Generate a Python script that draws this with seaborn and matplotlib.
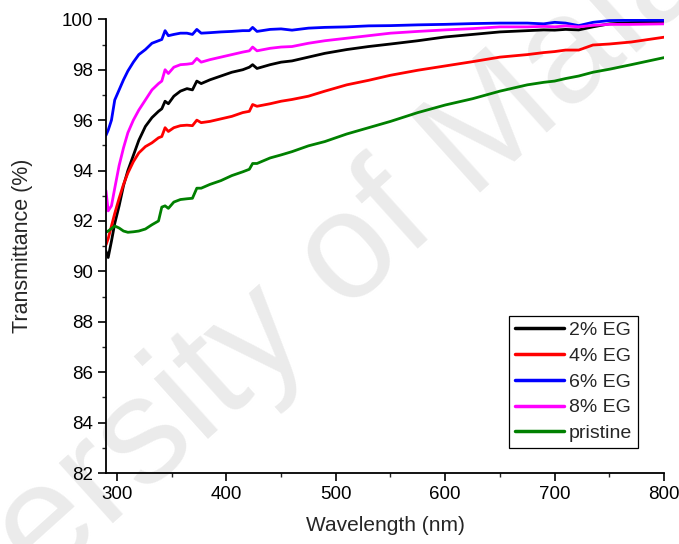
import pandas as pd
import numpy as np
import matplotlib
matplotlib.use("Agg")
import matplotlib.pyplot as plt
from matplotlib.ticker import MultipleLocator
import seaborn as sns

# --- valeurs ---
wavelength = [290, 292, 295, 298, 302, 306, 310, 315, 320, 326, 332, 338, 341, 344, 347,
              352, 358, 364, 369, 373, 377, 385, 395, 405, 415, 421, 424, 428, 440, 450,
              460, 475, 490, 510, 530, 550, 575, 600, 625, 650, 675, 690, 700, 710, 722,
              735, 750, 770, 800]

eg2 = [90.8, 90.55, 91.2, 91.9, 92.6, 93.4, 94.0, 94.6, 95.2, 95.75, 96.1, 96.35, 96.45, 96.75, 96.65,
       96.95, 97.15, 97.25, 97.2, 97.55, 97.45, 97.6, 97.75, 97.9, 98.0, 98.1, 98.2, 98.05, 98.2, 98.3,
       98.35, 98.5, 98.65, 98.8, 98.92, 99.02, 99.15, 99.3, 99.4, 99.5, 99.55, 99.58, 99.57, 99.6, 99.58,
       99.7, 99.82, 99.87, 99.9]

eg4 = [91.05, 91.3, 91.8, 92.3, 92.9, 93.45, 93.9, 94.35, 94.7, 94.95, 95.1, 95.3, 95.35, 95.7, 95.55,
       95.7, 95.78, 95.8, 95.78, 96.0, 95.9, 95.95, 96.05, 96.15, 96.3, 96.35, 96.62, 96.55, 96.65, 96.75,
       96.82, 96.95, 97.15, 97.4, 97.58, 97.78, 97.98, 98.15, 98.32, 98.5, 98.6, 98.68, 98.72, 98.78, 98.78,
       98.98, 99.02, 99.1, 99.29]

eg6 = [95.4, 95.6, 96.0, 96.8, 97.2, 97.6, 97.95, 98.3, 98.6, 98.8, 99.05, 99.15, 99.2, 99.55, 99.35,
       99.4, 99.45, 99.45, 99.4, 99.6, 99.45, 99.47, 99.5, 99.52, 99.55, 99.55, 99.68, 99.52, 99.6, 99.62,
       99.57, 99.65, 99.68, 99.7, 99.74, 99.75, 99.78, 99.8, 99.83, 99.85, 99.85, 99.82, 99.88, 99.85, 99.75,
       99.88, 99.95, 99.96, 99.96]

eg8 = [93.2, 92.4, 92.6, 93.3, 94.2, 94.9, 95.5, 96.0, 96.4, 96.8, 97.2, 97.45, 97.55, 98.0, 97.85,
       98.1, 98.2, 98.22, 98.25, 98.45, 98.3, 98.4, 98.5, 98.6, 98.7, 98.75, 98.9, 98.75, 98.85, 98.9,
       98.92, 99.05, 99.15, 99.25, 99.35, 99.45, 99.52, 99.58, 99.63, 99.7, 99.7, 99.72, 99.7, 99.74, 99.7,
       99.76, 99.8, 99.8, 99.82]

pristine = [91.55, 91.6, 91.7, 91.8, 91.72, 91.6, 91.55, 91.57, 91.6, 91.68, 91.85, 92.0, 92.55, 92.6, 92.5,
            92.75, 92.85, 92.88, 92.9, 93.3, 93.3, 93.45, 93.6, 93.8, 93.95, 94.05, 94.28, 94.28, 94.5, 94.62,
            94.75, 94.98, 95.15, 95.45, 95.7, 95.95, 96.3, 96.6, 96.85, 97.15, 97.4, 97.5, 97.55, 97.65, 97.75,
            97.9, 98.02, 98.2, 98.48]

labels = ['2% EG', '4% EG', '6% EG', '8% EG', 'pristine']
series = [eg2, eg4, eg6, eg8, pristine]
couleurs = {'2% EG': '#000000', '4% EG': '#ff0000', '6% EG': '#0000ff',
            '8% EG': '#ff00ff', 'pristine': '#008000'}

# tableau long pour seaborn
df = pd.concat([pd.DataFrame({'Wavelength': wavelength, 'T': s, 'Echantillon': lab})
                for lab, s in zip(labels, series)], ignore_index=True)

sns.set_style('ticks')
plt.rcParams['font.family'] = ['Liberation Sans', 'DejaVu Sans']

fig = plt.figure(figsize=(6.79, 5.44), dpi=100)
ax = fig.add_axes([0.1561, 0.1305, 0.8219, 0.834])
ax.patch.set_alpha(0)

# filigrane
fig.text(0.443, 0.445, 'University of Malaya', fontsize=110, color='#ebebeb',
         rotation=42, ha='center', va='center', rotation_mode='anchor', zorder=-1)

sns.lineplot(data=df, x='Wavelength', y='T', hue='Echantillon', hue_order=labels,
             palette=couleurs, sort=False, linewidth=2.0, ax=ax)

ax.set_xlim(290, 800)
ax.set_ylim(82, 100)
ax.xaxis.set_major_locator(MultipleLocator(100))
ax.xaxis.set_minor_locator(MultipleLocator(50))
ax.yaxis.set_major_locator(MultipleLocator(2))
ax.yaxis.set_minor_locator(MultipleLocator(1))

for side in ['top', 'right']:
    ax.spines[side].set_visible(False)
for side in ['left', 'bottom']:
    ax.spines[side].set_linewidth(1.3)
    ax.spines[side].set_color('black')

ax.tick_params(which='major', direction='out', length=5.5, width=1.2, labelsize=13.5,
               pad=4, colors='black')
ax.tick_params(which='minor', direction='out', length=3, width=1.0)

ax.set_xlabel('Wavelength (nm)', fontsize=15)
ax.set_ylabel('Transmittance (%)', fontsize=15.5)
ax.xaxis.set_label_coords(0.5, -0.1146)
ax.yaxis.set_label_coords(-0.1496, 0.5)
ax.xaxis.label.set_va('center')
ax.yaxis.label.set_va('center')

leg = ax.legend(loc='lower right', bbox_to_anchor=(0.953, 0.055), borderaxespad=0,
                fontsize=14, frameon=True, fancybox=False, handlelength=2.5,
                handletextpad=0.25, labelspacing=0.42, borderpad=0.3)
leg.get_frame().set_edgecolor('black')
leg.get_frame().set_linewidth(0.9)
leg.get_frame().set_alpha(1)
for line in leg.get_lines():
    line.set_linewidth(2.5)

fig.savefig('out.png', dpi=100)
